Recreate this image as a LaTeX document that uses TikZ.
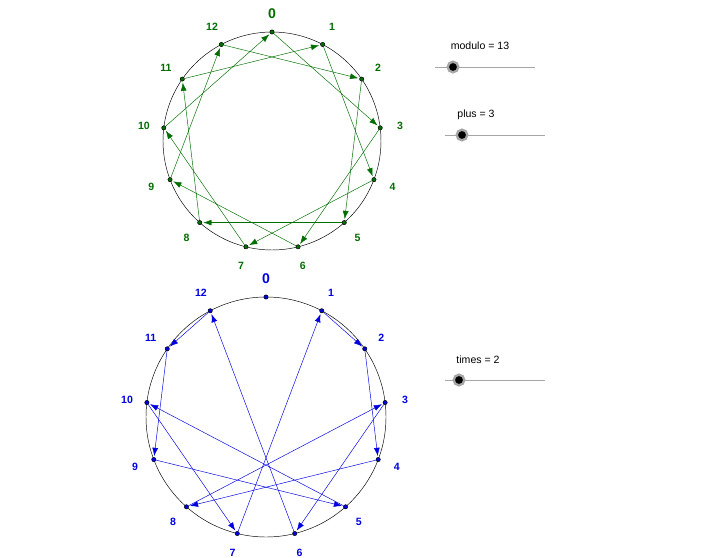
\documentclass[tikz,border=0pt]{standalone}
\usepackage{fontspec}
\setmainfont{Liberation Sans}
\usetikzlibrary{arrows.meta, calc}
\definecolor{plusgreen}{RGB}{0,110,0}
\definecolor{timesblue}{RGB}{0,0,225}
\tikzset{
    dot/.style = {circle, draw = black, inner sep = 1.3pt},
    numlabel/.style = {font = \bfseries\small, inner sep = 1pt},
    chord/.style = {-{Latex[length = 7pt, width = 5pt]}, shorten >= 1pt},
    knob/.style = {circle, fill = black, draw = gray!70, line width = 2pt, inner sep = 3.2pt},
    slider/.style = {draw = gray!70, line width = 0.6pt}
}
\begin{document}
\begin{tikzpicture}[x = 0.03cm, y = -0.03cm]
    \useasboundingbox (0, 0) rectangle (718, 558);
    % circle with plus
    \coordinate (cp) at (272, 141);
    \draw (cp) circle (109);
    \foreach \k in {0, ..., 12} {
        \node (p\k) [dot, fill = plusgreen] at ($(cp) + ({360*\k/13 - 90}:109)$) {};
    }
    \foreach \k in {0, ..., 12} {
        \pgfmathtruncatemacro{\j}{mod(\k + 3, 13)}
        \draw [chord, plusgreen] (p\k) -- (p\j);
    }
    \foreach \k in {1, ..., 12} {
        \node [numlabel, text = plusgreen] at ($(cp) + ({360*\k/13 - 90}:129)$) {\k};
    }
    \node [numlabel, font = \bfseries\large, text = plusgreen] at ($(cp) + (0, -127)$) {0};
    % circle with times
    \coordinate (ct) at (266, 417);
    \draw (ct) circle (120);
    \foreach \k in {0, ..., 12} {
        \node (t\k) [dot, fill = timesblue] at ($(ct) + ({360*\k/13 - 90}:120)$) {};
    }
    \foreach \k in {1, ..., 12} {
        \pgfmathtruncatemacro{\j}{mod(2*\k, 13)}
        \draw [chord, timesblue] (t\k) -- (t\j);
    }
    \foreach \k in {1, ..., 12} {
        \node [numlabel, text = timesblue] at ($(ct) + ({360*\k/13 - 90}:140)$) {\k};
    }
    \node [numlabel, font = \bfseries\large, text = timesblue] at ($(ct) + (0, -138)$) {0};
    % sliders
    \node (lmod) [font = \small] at (480, 46) {modulo = 13};
    \draw [slider] (435, 67) -- (535, 67);
    \node (kmod) [knob] at (453, 67) {};
    \node (lplus) [font = \small] at (476, 115) {plus = 3};
    \draw [slider] (445, 135) -- (545, 135);
    \node (kplus) [knob] at (462, 135) {};
    \node (ltimes) [font = \small] at (478, 360) {times = 2};
    \draw [slider] (445, 380) -- (545, 380);
    \node (ktimes) [knob] at (459, 380) {};
\end{tikzpicture}
\end{document}
